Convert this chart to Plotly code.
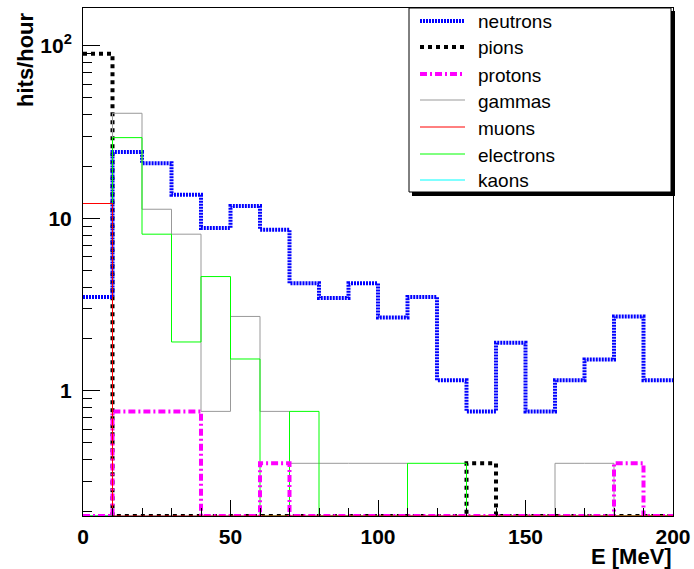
import numpy as np
import plotly.graph_objects as go

# ---- data (hits/hour per 10 MeV bin, 0..200 MeV) ----
bin_edges = list(range(0, 210, 10))
neutrons = [3.5, 24.3, 20.9, 13.7, 8.8, 11.8, 8.6, 4.2, 3.45, 4.2,
            2.66, 3.5, 1.15, 0.76, 1.9, 0.76, 1.15, 1.52, 2.7, 1.15]
pions = [90, 0, 0, 0, 0, 0, 0, 0, 0, 0,
         0, 0, 0, 0.38, 0, 0, 0, 0, 0, 0]
protons = [0, 0.76, 0.76, 0.76, 0, 0, 0.38, 0, 0, 0,
           0, 0, 0, 0, 0, 0, 0, 0, 0.38, 0]
gammas = [0, 40.7, 11.3, 8.1, 0.76, 2.7, 0.76, 0.38, 0.38, 0.38,
          0.38, 0, 0, 0, 0, 0, 0.38, 0.38, 0, 0]
muons = [12.2, 0, 0, 0, 0, 0, 0, 0, 0, 0,
         0, 0, 0, 0, 0, 0, 0, 0, 0, 0]
electrons = [0, 29.4, 8.1, 1.92, 4.6, 1.53, 0, 0.76, 0, 0,
             0, 0.38, 0.38, 0, 0, 0, 0, 0, 0, 0]
kaons = [0] * 20

x_ticks = [0, 50, 100, 150, 200]
y_ticks = [1, 10, 100]
y_ticktext = ["1", "10", "10<sup>2</sup>"]

YMIN, YMAX = 0.188, 166.0

styles = {
    "neutrons": dict(color="#0000ff", width=4, dash="2px,1px"),
    "pions": dict(color="#000000", width=4, dash="4px,4px"),
    "protons": dict(color="#ff00ff", width=4, dash="7px,3px,2px,3px"),
    "gammas": dict(color="#999999", width=1),
    "muons": dict(color="#ff0000", width=1),
    "electrons": dict(color="#00ff00", width=1),
    "kaons": dict(color="#00ffff", width=1),
}
series = {"neutrons": neutrons, "pions": pions, "protons": protons,
          "gammas": gammas, "muons": muons, "electrons": electrons,
          "kaons": kaons}
draw_order = ["kaons", "pions", "neutrons", "gammas", "electrons",
              "protons", "muons"]

fig = go.Figure()
for name in draw_order:
    v = np.array(series[name], dtype=float)
    v = np.where(v > 0, v, YMIN)
    y = list(v) + [v[-1]]
    fig.add_trace(go.Scatter(x=bin_edges, y=y, mode="lines",
                             line=dict(shape="hv", **styles[name]),
                             name=name, showlegend=False))

# ---- layout geometry ----
W, H = 694, 569
L, R, T, B = 83, 673, 8, 516
pw, ph = R - L, B - T


def px(x):
    return (x - L) / pw


def py(y):
    return (B - y) / ph


shapes = []
# legend shadow + box
shapes.append(dict(type="rect", xref="paper", yref="paper",
                   x0=px(412), x1=px(675), y0=py(196), y1=py(11),
                   fillcolor="black", line=dict(width=0), layer="above"))
shapes.append(dict(type="rect", xref="paper", yref="paper",
                   x0=px(409), x1=px(671), y0=py(192), y1=py(8),
                   fillcolor="white", line=dict(color="black", width=1),
                   layer="above"))
annotations = []
legend_names = ["neutrons", "pions", "protons", "gammas", "muons",
                "electrons", "kaons"]
row_y = [21, 47, 74, 100, 127, 154, 180]
for name, ry in zip(legend_names, row_y):
    st = styles[name]
    line = dict(color=st["color"], width=st["width"])
    if "dash" in st:
        line["dash"] = st["dash"]
    shapes.append(dict(type="line", xref="paper", yref="paper",
                       x0=px(420), x1=px(465), y0=py(ry), y1=py(ry),
                       line=line, layer="above"))
    annotations.append(dict(text=name, xref="paper", yref="paper",
                            x=px(476), y=py(ry + 1), xanchor="left",
                            yanchor="middle", showarrow=False,
                            font=dict(family="Liberation Sans", size=19,
                                      color="black")))

annotations.append(dict(text="E [MeV]", xref="paper", yref="paper",
                        x=px(674), y=py(556), xanchor="right",
                        yanchor="middle", showarrow=False,
                        font=dict(family="Liberation Sans", size=22,
                                  color="black", weight="bold")))
annotations.append(dict(text="hits/hour", xref="paper", yref="paper",
                        x=px(25), y=py(60), xanchor="center",
                        yanchor="middle", textangle=-90, showarrow=False,
                        font=dict(family="Liberation Sans", size=22,
                                  color="black", weight="bold")))

tickfont = dict(family="Liberation Sans", size=21, color="black",
                weight="bold")

fig.update_layout(
    width=W, height=H,
    margin=dict(l=L, r=W - R, t=T, b=H - B, pad=0),
    paper_bgcolor="white", plot_bgcolor="white",
    showlegend=False,
    shapes=shapes, annotations=annotations,
    xaxis=dict(range=[0, 200], tickvals=x_ticks, ticks="inside",
               ticklen=16, tickcolor="black", tickwidth=1,
               showline=True, linecolor="black", linewidth=1, mirror=True,
               showgrid=False, zeroline=False, tickfont=tickfont,
               automargin=False, ticklabelstandoff=2,
               minor=dict(dtick=10, ticks="inside", ticklen=8,
                          tickcolor="black", showgrid=False)),
    yaxis=dict(type="log", range=[np.log10(YMIN), np.log10(YMAX)],
               tickvals=y_ticks, ticktext=y_ticktext, ticks="inside",
               ticklen=17, tickcolor="black", tickwidth=1,
               showline=True, linecolor="black", linewidth=1, mirror=True,
               showgrid=False, zeroline=False, tickfont=tickfont,
               ticklabelstandoff=6, automargin=False,
               minor=dict(dtick="D1", ticks="inside", ticklen=9,
                          tickcolor="black", showgrid=False)),
)

fig.write_html("out.html",
               config={"displayModeBar": False},
               post_script="document.body.style.margin='0px';"
                           "document.body.style.overflow='hidden';")
